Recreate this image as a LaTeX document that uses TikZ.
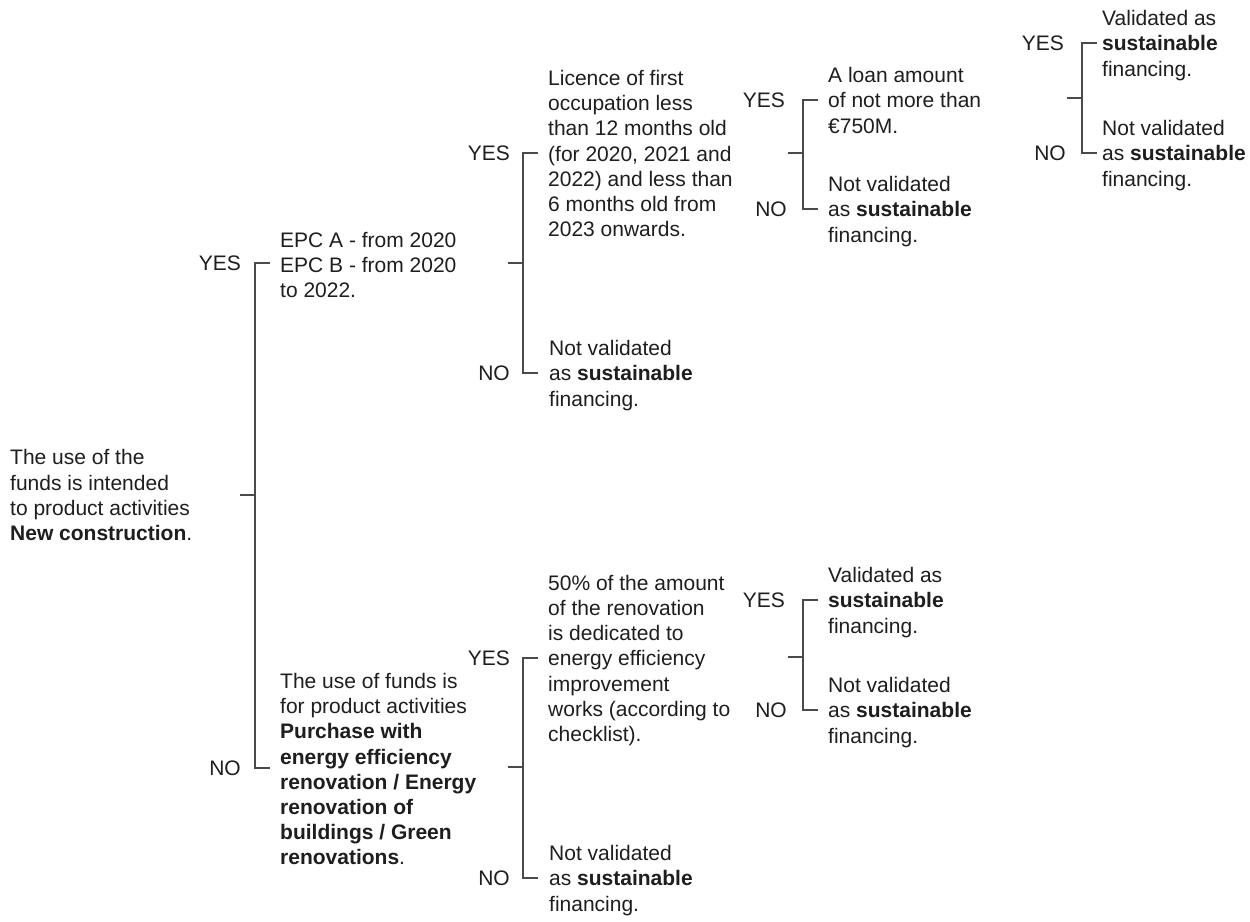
\documentclass[tikz,border=0pt]{standalone}
\usepackage{fontspec}
\setmainfont{Liberation Sans}
\definecolor{ink}{HTML}{1E1E1E}
\definecolor{rule}{HTML}{4A4A4A}
\newcommand\mkbracket[5]{% name, x, top y, mid y, bottom y
  \coordinate (#1t) at (#2+15,#3);
  \coordinate (#1tv) at (#2,#3);
  \coordinate (#1bv) at (#2,#5);
  \coordinate (#1b) at (#2+15,#5);
  \coordinate (#1m) at (#2-15,#4);
  \coordinate (#1mv) at (#2,#4);
  \draw[bline] (#1t) -- (#1tv) -- (#1bv) -- (#1b);
  \draw[bline] (#1m) -- (#1mv);
}
\begin{document}
\begin{tikzpicture}[x=1pt,y=-1pt,
  bline/.style={draw=rule,line width=1.1pt},
  txt/.style={anchor=north west,align=left,inner sep=0pt,text=ink,font=\fontsize{21}{25.2}\selectfont},
  lab/.style={anchor=east,inner sep=0pt,text=ink,font=\fontsize{21}{25.2}\selectfont}]
\useasboundingbox[fill=white] (0,0) rectangle (1250,921);

% root
\node[txt] (root) at (10,449.5) {The use of the\\funds is intended\\to product activities\\\textbf{New construction}.};

% bracket 1
\mkbracket{b1}{255}{263}{495}{768}
\node[lab] (y1) at (241,263) {YES};
\node[lab] (n1) at (241,768) {NO};
\node[txt] (epc) at (280,232) {EPC A - from 2020\\EPC B - from 2020\\to 2022.};
\node[txt] (reno) at (280,673) {The use of funds is\\for product activities\\\textbf{Purchase with}\\\textbf{energy efficiency}\\\textbf{renovation / Energy}\\\textbf{renovation of}\\\textbf{buildings / Green}\\\textbf{renovations}.};

% bracket 2
\mkbracket{b2}{523}{153}{263}{373}
\node[lab] (y2) at (510,153) {YES};
\node[lab] (n2) at (510,373) {NO};
\node[txt] (lic) at (548,70) {Licence of first\\occupation less\\than 12 months old\\(for 2020, 2021 and\\2022) and less than\\6 months old from\\2023 onwards.};
\node[txt] (nv2) at (549,340.3) {Not validated\\as \textbf{sustainable}\\financing.};

% bracket 3
\mkbracket{b3}{803}{100}{153}{209}
\node[lab] (y3) at (785,100) {YES};
\node[lab] (n3) at (787,209) {NO};
\node[txt] (loan) at (828,67.3) {A loan amount\\of not more than\\€750M.};
\node[txt] (nv3) at (828,176.3) {Not validated\\as \textbf{sustainable}\\financing.};

% bracket 6 (top right)
\mkbracket{b6}{1082}{43}{98}{153}
\node[lab] (y6) at (1064,43) {YES};
\node[lab] (n6) at (1066,153) {NO};
\node[txt] (v6) at (1102,10.3) {Validated as\\\textbf{sustainable}\\financing.};
\node[txt] (nv6) at (1102,120.3) {Not validated\\as \textbf{sustainable}\\financing.};

% bracket 4
\mkbracket{b4}{523}{658}{767}{878}
\node[lab] (y4) at (510,658) {YES};
\node[lab] (n4) at (510,878) {NO};
\node[txt] (pct) at (548,574.9) {50\% of the amount\\of the renovation\\is dedicated to\\energy efficiency\\improvement\\works (according to\\checklist).};
\node[txt] (nv4) at (549,845.3) {Not validated\\as \textbf{sustainable}\\financing.};

% bracket 5
\mkbracket{b5}{803}{600}{657}{710}
\node[lab] (y5) at (785,600) {YES};
\node[lab] (n5) at (787,710) {NO};
\node[txt] (v5) at (828,567.3) {Validated as\\\textbf{sustainable}\\financing.};
\node[txt] (nv5) at (828,677.3) {Not validated\\as \textbf{sustainable}\\financing.};
\end{tikzpicture}
\end{document}
